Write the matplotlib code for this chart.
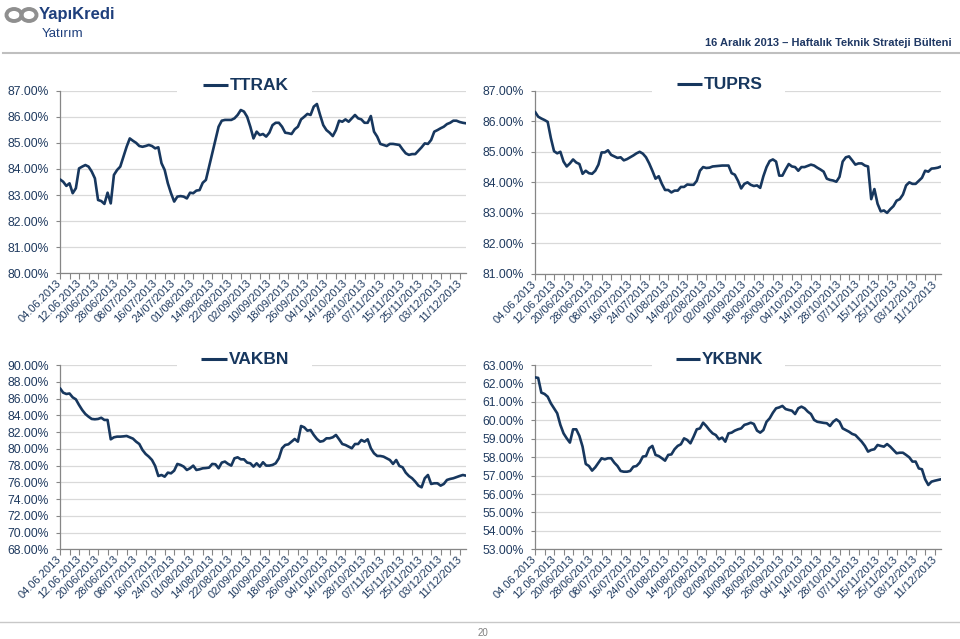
import matplotlib
matplotlib.use('Agg')
import matplotlib.pyplot as plt
from matplotlib.patches import Rectangle, Ellipse
from matplotlib.transforms import ScaledTranslation
from matplotlib.ticker import FuncFormatter
import numpy as np

plt.rcParams['font.family'] = ['Liberation Sans', 'DejaVu Sans']

W, H = 960, 639
NAVY = '#17375E'
TXT = '#1F3A5F'
GRID = '#D9D9D9'
AXC = '#868686'

tick_labels = ['04.06.2013', '12.06.2013', '20/06/2013', '28/06/2013', '08/07/2013',
               '16/07/2013', '24/07/2013', '01/08/2013', '14/08/2013', '22/08/2013',
               '02/09/2013', '10/09/2013', '18/09/2013', '26/09/2013', '04/10/2013',
               '14/10/2013', '28/10/2013', '07/11/2013', '15/11/2013', '25/11/2013',
               '03/12/2013', '11/12/2013']

ttrak = [83.60, 83.51, 83.35, 83.45, 83.07, 83.26, 84.02, 84.09, 84.15, 84.09,
         83.90, 83.64, 82.81, 82.77, 82.66, 83.09, 82.68, 83.77, 83.96, 84.09,
         84.47, 84.85, 85.17, 85.08, 85.00, 84.88, 84.85, 84.88, 84.92, 84.88,
         84.79, 84.83, 84.22, 83.96, 83.45, 83.07, 82.75, 82.94, 82.96, 82.94,
         82.87, 83.09, 83.07, 83.17, 83.19, 83.47, 83.58, 84.09, 84.60, 85.11,
         85.62, 85.85, 85.88, 85.88, 85.88, 85.94, 86.07, 86.26, 86.20, 86.00, 85.62,
         85.17, 85.43, 85.30, 85.34, 85.24, 85.39, 85.68, 85.77, 85.77, 85.62,
         85.39, 85.37, 85.34, 85.52, 85.62, 85.90, 86.00, 86.11, 86.07, 86.39,
         86.49, 86.07, 85.68, 85.49, 85.39, 85.26, 85.49, 85.85, 85.81, 85.90,
         85.81, 85.94, 86.07, 85.94, 85.90, 85.77, 85.77, 86.03, 85.43, 85.24,
         84.96, 84.92, 84.88, 84.96, 84.96, 84.94, 84.92, 84.75, 84.60, 84.54, 84.57,
         84.57, 84.70, 84.83, 84.98, 84.96, 85.11, 85.43, 85.49, 85.56, 85.62,
         85.72, 85.77, 85.85, 85.85, 85.80, 85.77, 85.75]

tuprs = [86.31, 86.15, 86.09, 86.04, 85.98, 85.45, 85.02, 84.95, 85.00, 84.68,
         84.52, 84.62, 84.75, 84.65, 84.60, 84.28, 84.38, 84.30, 84.28, 84.38,
         84.58, 84.98, 84.98, 85.05, 84.90, 84.85, 84.80, 84.82, 84.72, 84.76,
         84.82, 84.88, 84.95, 85.00, 84.94, 84.82, 84.62, 84.38, 84.12, 84.20,
         83.95, 83.75, 83.75, 83.67, 83.73, 83.73, 83.85, 83.85, 83.93, 83.92,
         83.92, 84.05, 84.38, 84.50, 84.47, 84.48, 84.52, 84.53, 84.54, 84.55,
         84.55, 84.55, 84.30, 84.25, 84.05, 83.80, 83.95, 84.00, 83.92, 83.88,
         83.90, 83.82, 84.20, 84.50, 84.70, 84.75, 84.68, 84.22, 84.22, 84.42,
         84.60, 84.52, 84.50, 84.38, 84.50, 84.50, 84.54, 84.58, 84.55, 84.48,
         84.42, 84.35, 84.12, 84.08, 84.06, 84.02, 84.18, 84.68, 84.82, 84.85,
         84.72, 84.58, 84.62, 84.62, 84.55, 84.52, 83.45, 83.78, 83.30, 83.05,
         83.08, 83.00, 83.12, 83.22, 83.40, 83.45, 83.60, 83.90, 84.00, 83.95,
         83.95, 84.05, 84.15, 84.38, 84.35, 84.45, 84.46, 84.48, 84.52]

vakbn = [87.22, 86.70, 86.54, 86.60, 86.14, 85.90, 85.23, 84.63, 84.15, 83.83,
         83.56, 83.52, 83.56, 83.70, 83.44, 83.44, 81.13, 81.37, 81.45, 81.45, 81.48,
         81.53, 81.37, 81.21, 80.85, 80.57, 79.86, 79.38, 79.06, 78.66, 77.95,
         76.75, 76.87, 76.67, 77.15, 77.07, 77.39, 78.19, 78.07, 77.87, 77.47,
         77.67, 77.99, 77.47, 77.55, 77.67, 77.70, 77.75, 78.19, 78.15, 77.67, 78.35,
         78.47, 78.19, 77.99, 78.86, 78.98, 78.74, 78.74, 78.35, 78.27, 77.87,
         78.27, 77.87, 78.39, 77.99, 77.99, 78.07, 78.27, 78.86, 80.06, 80.45,
         80.53, 80.85, 81.17, 80.85, 82.72, 82.56, 82.16, 82.24, 81.65, 81.17,
         80.85, 80.93, 81.25, 81.25, 81.37, 81.65, 81.13, 80.57, 80.45, 80.25,
         80.06, 80.57, 80.57, 81.05, 80.85, 81.13, 80.06, 79.46, 79.14, 79.14,
         79.06, 78.86, 78.66, 78.19, 78.66, 77.95, 77.79, 77.15, 76.75, 76.48,
         76.08, 75.60, 75.40, 76.48, 76.87, 75.80, 75.88, 75.88, 75.60, 75.80,
         76.28, 76.40, 76.48, 76.62, 76.75, 76.87, 76.79]

ykbnk = [62.33, 62.30, 61.50, 61.43, 61.28, 60.92, 60.65, 60.38, 59.75, 59.29,
         59.02, 58.79, 59.51, 59.51, 59.15, 58.57, 57.63, 57.52, 57.27, 57.45,
         57.70, 57.94, 57.88, 57.94, 57.94, 57.70, 57.52, 57.25, 57.21, 57.21, 57.25,
         57.48, 57.52, 57.70, 58.03, 58.06, 58.48, 58.61, 58.12, 58.06, 57.94,
         57.81, 58.12, 58.15, 58.43, 58.61, 58.70, 59.02, 58.93, 58.75, 59.11,
         59.51, 59.56, 59.87, 59.69, 59.47, 59.29, 59.20, 58.97, 59.06, 58.84,
         59.29, 59.33, 59.44, 59.51, 59.56, 59.75, 59.80, 59.87, 59.80, 59.44,
         59.33, 59.47, 59.92, 60.11, 60.41, 60.65, 60.70, 60.78, 60.61, 60.56,
         60.52, 60.34, 60.65, 60.74, 60.65, 60.47, 60.34, 60.02, 59.92, 59.89, 59.86,
         59.84, 59.69, 59.92, 60.05, 59.92, 59.56, 59.47, 59.38, 59.26, 59.20,
         59.02, 58.84, 58.61, 58.30, 58.39, 58.43, 58.66, 58.61, 58.57, 58.71,
         58.57, 58.39, 58.21, 58.24, 58.24, 58.12, 57.99, 57.76, 57.76, 57.39,
         57.34, 56.80, 56.49, 56.67, 56.72, 56.76, 56.80]

names = ['TTRAK', 'TUPRS', 'VAKBN', 'YKBNK']
series = [ttrak, tuprs, vakbn, ykbnk]
ylims = [(80, 87, 1), (81, 87, 1), (68, 90, 2), (53, 63, 1)]

# layout in pixels: (x0, y_top, x1, y_bottom); legend (box x0, box x1, line x0, line x1, text x, y centre)
boxes = [(60, 90.7, 466, 273.3), (535, 90.7, 941, 274.0),
         (60, 365.0, 466, 549.3), (535, 365.0, 941, 549.3)]
legends = [(177, 312, 203, 228, 230, 85), (652, 785, 677, 702, 704, 84),
           (177, 312, 201, 227, 229, 359), (652, 785, 676, 700, 702, 359)]

fig = plt.figure(figsize=(W / 100, H / 100), dpi=100)
shift = ScaledTranslation(4 / 100, 0, fig.dpi_scale_trans)

for name, data, (ylo, yhi, ystep), (x0, y0, x1, y1) in zip(names, series, ylims, boxes):
    ax = fig.add_axes([x0 / W, 1 - y1 / H, (x1 - x0) / W, (y1 - y0) / H])
    xs = np.arange(len(data))
    ax.plot(xs, data, color=NAVY, lw=1.9, solid_joinstyle='round', solid_capstyle='round', zorder=3)
    ax.set_xlim(0, len(data) - 1)
    ax.set_ylim(ylo, yhi)
    ax.set_yticks(np.arange(ylo, yhi + ystep / 2, ystep))
    ax.yaxis.set_major_formatter(FuncFormatter(lambda v, p: f'{v:.2f}%'))
    ax.grid(axis='y', color=GRID, lw=0.9)
    ax.set_axisbelow(True)
    for s in ['top', 'right']:
        ax.spines[s].set_visible(False)
    for s in ['left', 'bottom']:
        ax.spines[s].set_color(AXC)
        ax.spines[s].set_linewidth(0.9)
    ax.set_xticks(np.arange(0, 6 * len(tick_labels), 6))
    ax.set_xticks(np.arange(3, len(data), 6), minor=True)
    ax.set_xticklabels(tick_labels, rotation=45, ha='right', va='center',
                       rotation_mode='anchor', fontsize=8, color=TXT)
    for lab in ax.get_xticklabels():
        lab.set_transform(lab.get_transform() + shift)
    ax.tick_params(axis='x', which='both', direction='out', length=4, width=0.8,
                   color=AXC, pad=2)
    ax.tick_params(axis='y', direction='out', length=3, width=0.8, color=AXC,
                   labelsize=8.7, labelcolor=TXT, pad=5)

# overlay for header, footer and legends
ov = fig.add_axes([0, 0, 1, 1], zorder=10)
ov.set_xlim(0, W)
ov.set_ylim(H, 0)
ov.axis('off')

for name, (bx0, bx1, lx0, lx1, tx, yc) in zip(names, legends):
    ov.add_patch(Rectangle((bx0, yc - 11), bx1 - bx0, 22, facecolor='white', edgecolor='none'))
    ov.plot([lx0, lx1], [yc, yc], color=NAVY, lw=2.2, solid_capstyle='butt')
    ov.text(tx, yc + 0.5, name, ha='left', va='center', fontsize=12.5, weight='bold', color=NAVY)

# logo
ov.add_patch(Ellipse((14, 15), 15, 12, fill=False, lw=2.8, edgecolor='#8F8F8F'))
ov.add_patch(Ellipse((29, 15), 15, 12, fill=False, lw=2.8, edgecolor='#8F8F8F'))
ov.text(39, 14, 'YapıKredi', ha='left', va='center', fontsize=12, weight='bold', color='#1E3F7C')
ov.text(42, 34, 'Yatırım', ha='left', va='center', fontsize=9.5, color='#1E3F7C')

ov.text(952, 43, '16 Aralık 2013 – Haftalık Teknik Strateji Bülteni', ha='right', va='center',
        fontsize=8, weight='bold', color='#1F3864')
ov.plot([3, 960], [53, 53], color='#BFBFBF', lw=1.5)
ov.plot([0, 960], [622, 622], color='#C8C8C8', lw=1.0)
ov.text(483, 633, '20', ha='center', va='center', fontsize=7, color='#808080')

fig.savefig('out.png', dpi=100)
